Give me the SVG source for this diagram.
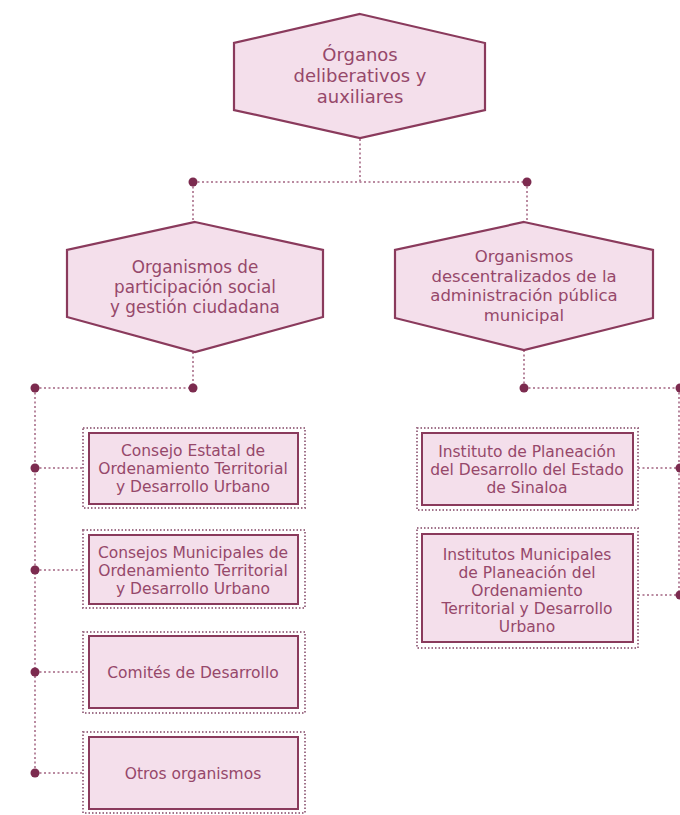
<svg xmlns="http://www.w3.org/2000/svg" width="680" height="815" viewBox="0 0 680 815">
  <style>
    .hex { fill: #f4dfeb; stroke: #8a3a5c; stroke-width: 2.2; stroke-linejoin: miter; }
    .box { fill: #f4dfeb; stroke: #8a3a5c; stroke-width: 2; }
    .frame { fill: none; stroke: #a0728a; stroke-width: 2; stroke-dasharray: 1.5 2; }
    .link { fill: none; stroke: #b98aa0; stroke-width: 2; stroke-dasharray: 2 2.5; }
    .dot { fill: #7c2b4f; }
    text { font-family: "DejaVu Sans", "Noto Sans", sans-serif; fill: #96486a; text-anchor: middle; }
    .t-top { font-size: 18px; }
    .t-hex { font-size: 16.8px; }
    .t-hex2 { font-size: 16.5px; }
    .t-box { font-size: 15.5px; }
  </style>

  <!-- connectors -->
  <g id="connectors">
    <path class="link" d="M360 139 V182 M193 182 H527 M193 182 V222 M527 182 V222"/>
    <path class="link" d="M193 352 V388 M35 388 H193 M35 388 V773"/>
    <path class="link" d="M35 468 H83 M35 570 H83 M35 672 H83 M35 773 H83"/>
    <path class="link" d="M524 350 V388 M524 388 H679 M679 388 V595"/>
    <path class="link" d="M638 468 H679 M638 595 H679"/>
    <circle class="dot" cx="193" cy="182" r="4.5"/>
    <circle class="dot" cx="527" cy="182" r="4.5"/>
    <circle class="dot" cx="193" cy="388" r="4.5"/>
    <circle class="dot" cx="35" cy="388" r="4.5"/>
    <circle class="dot" cx="35" cy="468" r="4.5"/>
    <circle class="dot" cx="35" cy="570" r="4.5"/>
    <circle class="dot" cx="35" cy="672" r="4.5"/>
    <circle class="dot" cx="35" cy="773" r="4.5"/>
    <circle class="dot" cx="524" cy="388" r="4.5"/>
    <circle class="dot" cx="680" cy="388" r="4.5"/>
    <circle class="dot" cx="680" cy="468" r="4.5"/>
    <circle class="dot" cx="680" cy="595" r="4.5"/>
  </g>

  <!-- top node -->
  <g id="organos">
    <polygon class="hex" points="360,14 485,43 485,110 360,138 234,110 234,43"/>
    <text class="t-top" x="360" y="61">Órganos</text>
    <text class="t-top" x="360" y="82">deliberativos y</text>
    <text class="t-top" x="360" y="103">auxiliares</text>
  </g>

  <!-- second level -->
  <g id="participacion">
    <polygon class="hex" points="195,222 323,250 323,317 195,352 67,317 67,250"/>
    <text class="t-hex" x="195" y="273">Organismos de</text>
    <text class="t-hex" x="195" y="293">participación social</text>
    <text class="t-hex" x="195" y="313">y gestión ciudadana</text>
  </g>

  <g id="descentralizados">
    <polygon class="hex" points="524,222 653,250 653,318 524,350 395,318 395,250"/>
    <text class="t-hex2" x="524" y="262">Organismos</text>
    <text class="t-hex2" x="524" y="281.5">descentralizados de la</text>
    <text class="t-hex2" x="524" y="301">administración pública</text>
    <text class="t-hex2" x="524" y="320.5">municipal</text>
  </g>

  <!-- left column -->
  <g id="consejo-estatal">
    <rect class="frame" x="83" y="428" width="222" height="80"/>
    <rect class="box" x="89" y="433" width="209" height="71"/>
    <text class="t-box" x="193" y="456">Consejo Estatal de</text>
    <text class="t-box" x="193" y="474">Ordenamiento Territorial</text>
    <text class="t-box" x="193" y="492">y Desarrollo Urbano</text>
  </g>

  <g id="consejos-municipales">
    <rect class="frame" x="83" y="530" width="222" height="78"/>
    <rect class="box" x="89" y="535" width="209" height="69"/>
    <text class="t-box" x="193" y="558">Consejos Municipales de</text>
    <text class="t-box" x="193" y="576">Ordenamiento Territorial</text>
    <text class="t-box" x="193" y="594">y Desarrollo Urbano</text>
  </g>

  <g id="comites">
    <rect class="frame" x="83" y="632" width="222" height="81"/>
    <rect class="box" x="89" y="636" width="209" height="72"/>
    <text class="t-box" x="193" y="678">Comités de Desarrollo</text>
  </g>

  <g id="otros">
    <rect class="frame" x="83" y="732" width="222" height="81"/>
    <rect class="box" x="89" y="737" width="209" height="72"/>
    <text class="t-box" x="193" y="779">Otros organismos</text>
  </g>

  <!-- right column -->
  <g id="instituto-estatal">
    <rect class="frame" x="417" y="428" width="221" height="82"/>
    <rect class="box" x="422" y="433" width="211" height="72"/>
    <text class="t-box" x="527" y="457">Instituto de Planeación</text>
    <text class="t-box" x="527" y="475">del Desarrollo del Estado</text>
    <text class="t-box" x="527" y="493">de Sinaloa</text>
  </g>

  <g id="institutos-municipales">
    <rect class="frame" x="417" y="528" width="221" height="120"/>
    <rect class="box" x="422" y="534" width="211" height="108"/>
    <text class="t-box" x="527" y="560">Institutos Municipales</text>
    <text class="t-box" x="527" y="578">de Planeación del</text>
    <text class="t-box" x="527" y="596">Ordenamiento</text>
    <text class="t-box" x="527" y="614">Territorial y Desarrollo</text>
    <text class="t-box" x="527" y="632">Urbano</text>
  </g>
</svg>
